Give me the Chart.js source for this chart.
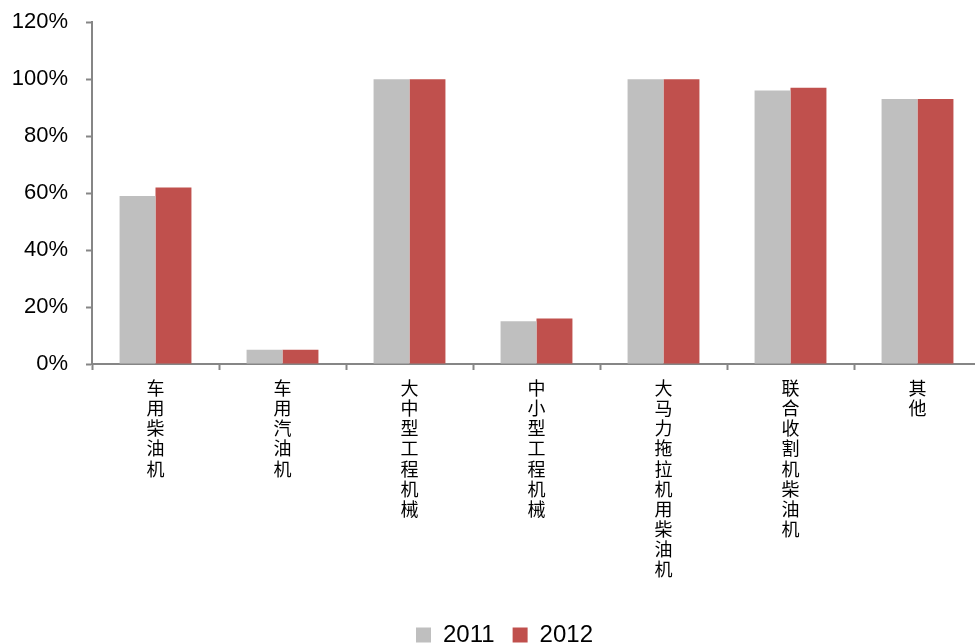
<!DOCTYPE html>
<html>
<head>
<meta charset="utf-8">
<script src="https://cdn.jsdelivr.net/npm/chart.js@4/dist/chart.umd.min.js"></script>
<style>
  html, body { margin: 0; padding: 0; background: #fff; overflow: hidden; }
  #wrap { position: absolute; left: 0; top: -9px; width: 1012px; height: 660px; }
</style>
</head>
<body>
<div id="wrap"><canvas id="myChart"></canvas></div>
<script>
// categories, one char per line so labels read top to bottom
const categories = ['车用柴油机', '车用汽油机', '大中型工程机械', '中小型工程机械', '大马力拖拉机用柴油机', '联合收割机柴油机', '其他'];
const years = ['2011', '2012'];
const share2011 = [59, 5, 100, 15, 100, 96, 93];
const share2012 = [62, 5, 100, 16, 100, 97, 93];
const yTicks = [0, 20, 40, 60, 80, 100, 120];

const colors = {
    '2011': 'rgb(191, 191, 191)',
    '2012': 'rgb(192, 80, 77)'
};
const axisColor = '#868686';

// nudge the legend a little right and down after layout
const legendShift = {
    id: 'legendShift',
    afterLayout(chart) {
        const lg = chart.legend;
        lg.left += 14;
        lg.right += 14;
        lg.top += 6;
        lg.bottom += 6;
    }
};

function createChart() {

    const ctx = document.getElementById('myChart');

    const data = {
        labels: categories.map(c => c.split('')),
        datasets: [
            { label: years[0], data: share2011, backgroundColor: colors['2011'] },
            { label: years[1], data: share2012, backgroundColor: colors['2012'] }
        ]
    };

    const config = {
        type: 'bar',
        data: data,
        plugins: [legendShift],
        options: {
            responsive: true,
            maintainAspectRatio: false,
            animation: false,
            layout: { padding: { left: 0, right: 31, top: 2, bottom: 0 } },
            datasets: { bar: { categoryPercentage: 0.566, barPercentage: 1.0 } },
            plugins: {
                tooltip: { enabled: false },
                legend: {
                    position: 'bottom',
                    labels: {
                        boxWidth: 15,
                        boxHeight: 15,
                        padding: 18,
                        color: '#000',
                        font: { family: 'Liberation Sans, Arial, sans-serif', size: 24 }
                    }
                }
            },
            scales: {
                x: {
                    offset: true,
                    grid: {
                        offset: true,
                        drawOnChartArea: false,
                        drawTicks: true,
                        tickLength: 6,
                        tickWidth: 2,
                        tickColor: axisColor
                    },
                    border: { color: axisColor, width: 2 },
                    ticks: {
                        maxRotation: 0,
                        autoSkip: false,
                        padding: 8,
                        color: '#000',
                        font: { family: '"Noto Sans CJK SC", sans-serif', size: 18, lineHeight: 1.12 }
                    },
                    afterFit: (scale) => { scale.height = 235; }
                },
                y: {
                    min: 0,
                    max: 120,
                    afterBuildTicks: (scale) => { scale.ticks = yTicks.map(v => ({ value: v })); },
                    grid: {
                        drawOnChartArea: false,
                        drawTicks: true,
                        tickLength: 6,
                        tickWidth: 2,
                        tickColor: axisColor
                    },
                    border: { color: axisColor, width: 2 },
                    ticks: {
                        padding: 18,
                        color: '#000',
                        font: { family: 'Liberation Sans, Arial, sans-serif', size: 22 },
                        callback: (v) => v + '%'
                    },
                    afterFit: (scale) => { scale.width = 92; }
                }
            }
        }
    };

    return new Chart(ctx, config);
}

const chart = createChart();
</script>
</body>
</html>
